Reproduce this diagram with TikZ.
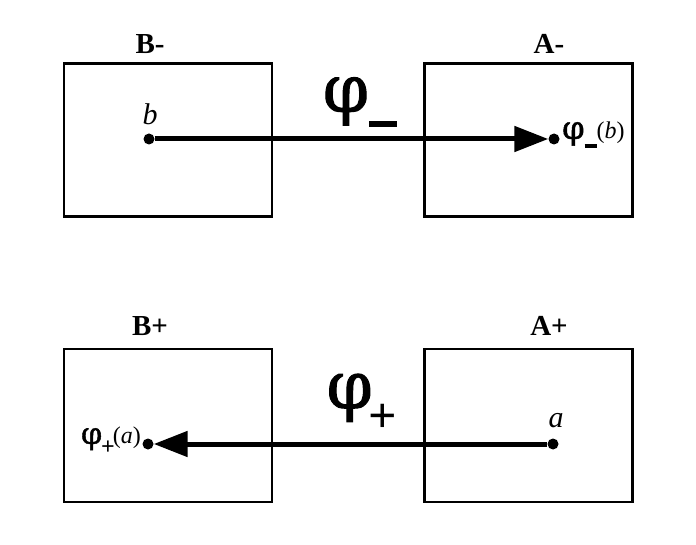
\documentclass[tikz,border=0pt]{standalone}
\usepackage{fontspec}
\setmainfont{Liberation Serif}
\newfontfamily\phifont{DejaVu Serif}[FakeBold=1.5]
\usetikzlibrary{arrows.meta,positioning}

\begin{document}
\begin{tikzpicture}[x=1pt,y=-1pt,>={Triangle[length=34pt,width=25pt]},
  box/.style={draw,line width=2.5pt,minimum width=208pt,minimum height=153pt,inner sep=0pt},
  pt/.style={circle,fill,inner sep=0pt,minimum size=11pt},
  title/.style={font=\fontsize{29}{29}\selectfont\bfseries},
  var/.style={font=\fontsize{30}{30}\selectfont\itshape}]
            \useasboundingbox (0,0) rectangle (696,545);

            \node[box] (Bminus) at (168,140) {};
            \node[box] (Aminus) [right=150pt of Bminus] {};
            \node[box] (Bplus) [below=130pt of Bminus] {};
            \node[box] (Aplus) [below=130pt of Aminus] {};

            \node[title] (tBm) at (150,44) {B-};
            \node[title] (tAm) at (549,44) {A-};
            \node[title] (tBp) at (150,326) {B+};
            \node[title] (tAp) at (549,326) {A+};

            % upper map
            \node[pt] (b) at (149,139) {};
            \node[pt] (fb) at (554,139) {};
            \node[var] at (150,114) {b};
            \node[anchor=west,inner sep=0pt] at (562,135) {\fontsize{32}{32}\phifont φ\raisebox{-9pt}{\rule{12pt}{3.5pt}}\rmfamily\fontsize{24}{24}\selectfont(\textit{b})};
            \node (phim) at (360,102) {\fontsize{66}{66}\phifont φ\raisebox{-15pt}{\rule{28pt}{5.5pt}}};
            \draw[->,line width=5pt] (b) -- (fb);

            % lower map
            \node[pt] (a) at (553,444) {};
            \node[pt] (fa) at (148,444) {};
            \node[var] at (556,421) {a};
            \node[anchor=east,inner sep=0pt] at (141,441) {\fontsize{30}{30}\phifont φ\kern-1pt\raisebox{-11pt}{\rmfamily\fontsize{24}{24}\selectfont\bfseries +}\kern-2pt\rmfamily\fontsize{24}{24}\selectfont(\textit{a})};
            \node (phip) at (362,403) {\fontsize{66}{66}\phifont φ\kern-4pt\raisebox{-24pt}{\rmfamily\fontsize{50}{50}\selectfont\bfseries +}};
            \draw[->,line width=5pt] (a) -- (fa);
        \end{tikzpicture}
\end{document}
